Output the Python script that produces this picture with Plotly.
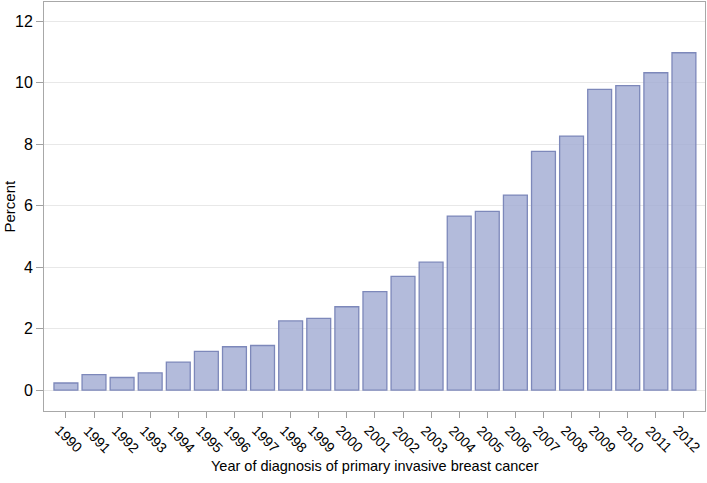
import plotly.graph_objects as go

years = [str(y) for y in range(1990, 2013)]
percent = [0.23, 0.50, 0.41, 0.56, 0.91, 1.26, 1.41, 1.45, 2.25, 2.33, 2.71, 3.20,
           3.70, 4.16, 5.66, 5.81, 6.34, 7.76, 8.26, 9.78, 9.90, 10.32, 10.97]
y_ticks = [0, 2, 4, 6, 8, 10, 12]

fig = go.Figure()
fig.add_trace(go.Bar(
    x=years, y=percent, width=0.85,
    marker=dict(color="rgba(160,170,210,0.8)", line=dict(color="#7d88ba", width=1.3)),
))

# rotated year labels, centred under each tick (category index positions)
for i, yr in enumerate(years):
    fig.add_annotation(x=i, xref="x", y=0, yref="paper", text=yr,
                       textangle=45, showarrow=False, xanchor="center",
                       yanchor="middle", yshift=-28, xshift=3,
                       font=dict(size=14, color="#000000"))

fig.add_annotation(x=0.5, xref="paper", y=0, yref="paper",
                   text="Year of diagnosis of primary invasive breast cancer",
                   showarrow=False, xanchor="center", yanchor="middle", yshift=-55,
                   font=dict(size=14.5, color="#000000"))
fig.add_annotation(x=0, xref="paper", y=0.5, yref="paper", text="Percent",
                   textangle=-90, showarrow=False, xanchor="center",
                   yanchor="middle", xshift=-35,
                   font=dict(size=15, color="#000000"))

fig.update_layout(
    width=707, height=483,
    margin=dict(l=44, r=2, t=2, b=72),
    plot_bgcolor="white", paper_bgcolor="white",
    showlegend=False,
    font=dict(family="Liberation Sans, Arial, sans-serif", color="#000000"),
    xaxis=dict(
        type="category", range=[-0.78, 22.75], automargin=False,
        showticklabels=False,
        ticks="outside", ticklen=6, tickcolor="#a0a0a0",
        showline=True, linecolor="#a8a8a8", linewidth=1, mirror=True,
        showgrid=False,
    ),
    yaxis=dict(
        range=[-0.68, 12.62], tickvals=y_ticks, automargin=False,
        tickfont=dict(size=16),
        ticks="outside", ticklen=7, tickcolor="#a0a0a0",
        showline=True, linecolor="#a8a8a8", linewidth=1, mirror=True,
        showgrid=True, gridcolor="#e8e8e8", gridwidth=1, zeroline=False,
    ),
)

fig.write_html("out.html", config={"displayModeBar": False},
               post_script="document.body.style.margin='0px';")
